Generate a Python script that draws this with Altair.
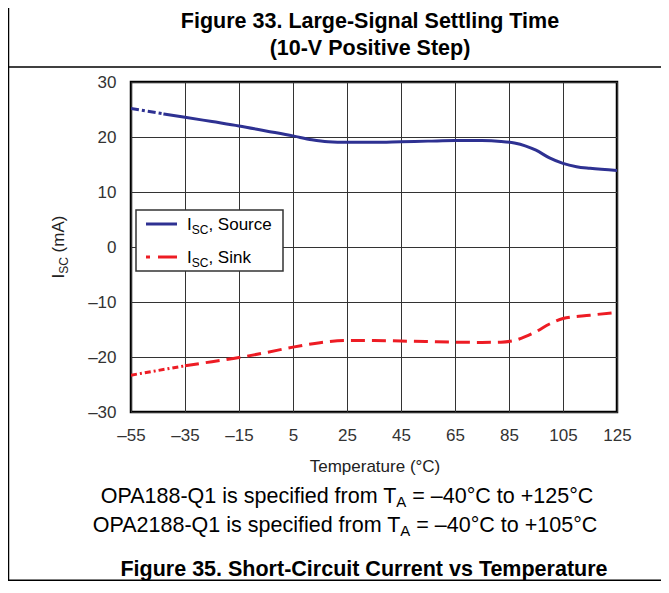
import altair as alt
import pandas as pd

# ---------------- data ----------------
x_ticks = [-55, -35, -15, 5, 25, 45, 65, 85, 105, 125]
y_ticks = [-30, -20, -10, 0, 10, 20, 30]

src_dash_t = [-55, -43]
src_dash_v = [25.2, 24.2]
src_t = [-43, -35, -25, -15, -5, 5, 12, 18, 25, 35, 45, 55, 65, 75, 82, 87, 91, 95, 100, 105, 110, 115, 125]
src_v = [24.2, 23.6, 22.8, 22.0, 21.1, 20.2, 19.5, 19.15, 19.05, 19.05, 19.15, 19.25, 19.35, 19.35, 19.2, 18.9, 18.4, 17.6, 16.2, 15.2, 14.6, 14.3, 13.9]

sink_dd_t = [-55, -45, -35]
sink_dd_v = [-23.3, -22.45, -21.6]
sink_t = [-35, -25, -15, -5, 5, 15, 25, 35, 45, 55, 65, 75, 82, 87, 91, 95, 100, 105, 115, 125]
sink_v = [-21.6, -20.85, -20.1, -19.2, -18.2, -17.4, -17.0, -17.0, -17.1, -17.2, -17.3, -17.35, -17.3, -17.0, -16.3, -15.4, -14.0, -13.0, -12.4, -11.9]

title_lines = ["Figure 33. Large-Signal Settling Time", "(10-V Positive Step)"]
caption = "Figure 35. Short-Circuit Current vs Temperature"
x_title = "Temperature (\u00b0C)"
y_title = ["I", "SC", "(mA)"]
legend_src = ["I", "SC", ", Source"]
legend_sink = ["I", "SC", ", Sink"]
note1 = ["OPA188-Q1 is specified from T", "A", "= \u201340\u00b0C to +125\u00b0C"]
note2 = ["OPA2188-Q1 is specified from T", "A", "= \u201340\u00b0C to +105\u00b0C"]

NAVY = "#2E3192"
RED = "#ED1C24"
FONT = "Liberation Sans"

xs = alt.Scale(domain=[-55, 125], nice=False, zero=False)
ys = alt.Scale(domain=[-30, 30], nice=False, zero=False)
lab_expr = "datum.value < 0 ? '\u2013' + abs(datum.value) : '' + datum.value"
x_axis = alt.Axis(values=x_ticks, grid=True, ticks=False, tickSize=0, domain=False, title=None,
                  labelFont=FONT, labelFontSize=17, labelColor="#333", labelPadding=15,
                  labelFlush=False, labelOverlap=False, labelBound=False, labelExpr=lab_expr,
                  gridColor="#333", gridWidth=1)
y_axis = alt.Axis(values=y_ticks, grid=True, ticks=False, tickSize=0, domain=False, title=None,
                  labelFont=FONT, labelFontSize=17, labelColor="#333", labelPadding=15,
                  labelOverlap=False, labelBound=False, labelExpr=lab_expr,
                  gridColor="#333", gridWidth=1)


def series(t, v, color, dash=None):
    df = pd.DataFrame({"t": t, "v": v})
    kw = dict(color=color, strokeWidth=3, interpolate="monotone", clip=True)
    if dash:
        kw["strokeDash"] = dash
    return alt.Chart(df).mark_line(**kw).encode(
        x=alt.X("t:Q", scale=xs, axis=x_axis),
        y=alt.Y("v:Q", scale=ys, axis=y_axis),
    )


ONE = alt.Data(values=[{"a": 1}])


def txt(s, x, y, size, weight="normal", align="left", angle=0, color="black"):
    kw = dict(text=s, font=FONT, fontSize=size, fontWeight=weight, align=align,
              baseline="alphabetic", color=color)
    if angle:
        kw["angle"] = angle
    return alt.Chart(ONE).mark_text(**kw).encode(x=alt.value(x), y=alt.value(y))


def hrule(x1, x2, y, color="black", w=1.5):
    return alt.Chart(ONE).mark_rule(color=color, strokeWidth=w).encode(
        x=alt.value(x1), x2=alt.value(x2), y=alt.value(y))


def vrule(x, y1, y2, color="black", w=1.5):
    return alt.Chart(ONE).mark_rule(color=color, strokeWidth=w).encode(
        x=alt.value(x), y=alt.value(y1), y2=alt.value(y2))


layers = [
    series(src_dash_t, src_dash_v, NAVY, [8, 3, 3, 3]),
    series(src_t, src_v, NAVY),
    series(sink_dd_t, sink_dd_v, RED, [6, 3, 2, 3]),
    series(sink_t, sink_v, RED, [14, 7]),
    # legend box
    alt.Chart(ONE).mark_rect(fill="white", stroke="#333", strokeWidth=1.5).encode(
        x=alt.value(5), x2=alt.value(152), y=alt.value(128), y2=alt.value(189)),
    hrule(15, 46, 142, NAVY, 3),
    hrule(15, 19, 175, RED, 3),
    hrule(27, 46, 175, RED, 3),
    txt(legend_src[0], 56, 148, 17),
    txt(legend_src[1], 60.7, 152, 12),
    txt(legend_src[2], 77.4, 148, 17),
    txt(legend_sink[0], 56, 181, 17),
    txt(legend_sink[1], 60.7, 185, 12),
    txt(legend_sink[2], 77.4, 181, 17),
    # y title (rotated)
    txt(y_title[0], -67.5, 196.5, 17, angle=270, color="#222"),
    txt(y_title[1], -63.5, 191.8, 12, angle=270, color="#222"),
    txt(y_title[2], -67.5, 170.4, 17, angle=270, color="#222"),
    # x title
    txt(x_title, 244, 390, 17, align="center", color="#222"),
    # header titles
    txt(title_lines[0], 239, -54.5, 21.5, weight="bold", align="center"),
    txt(title_lines[1], 239, -27.5, 21.5, weight="bold", align="center"),
    # notes
    txt(note1[0], 265.3, 420.7, 21.5, align="right"),
    txt(note1[1], 265.3, 424.7, 15),
    txt(note1[2], 281.3, 420.7, 21.5),
    txt(note2[0], 269.3, 449.7, 21.5, align="right"),
    txt(note2[1], 269.3, 453.7, 15),
    txt(note2[2], 285.3, 449.7, 21.5),
    # caption
    txt(caption, 233, 493.5, 21.5, weight="bold", align="center"),
    # frame
    vrule(-122.5, -82, 499),
    hrule(-123, 530, -15),
    hrule(-123, 530, 498.25),
]

chart = alt.layer(*layers).properties(
    width=486, height=330,
    autosize=alt.AutoSizeParams(type="none"),
    padding={"left": 123, "top": 74, "right": 44, "bottom": 169},
    background="white",
).configure_view(stroke="black", strokeWidth=2.5)

chart.save("out.html", embed_options={"renderer": "svg", "actions": False})
